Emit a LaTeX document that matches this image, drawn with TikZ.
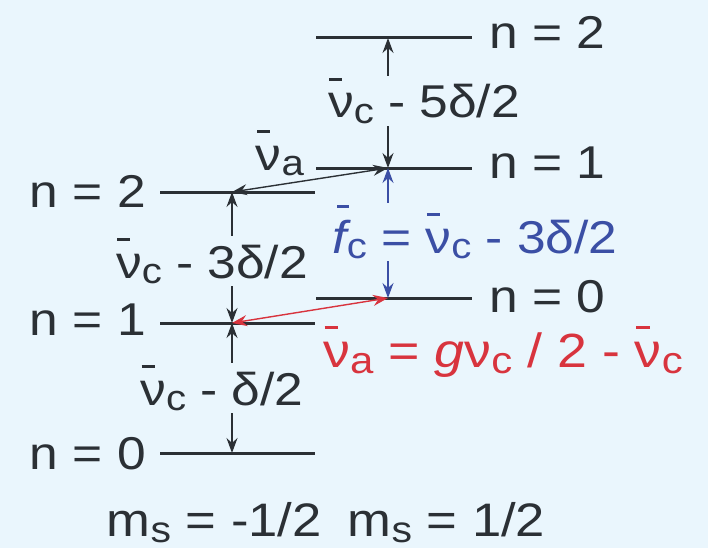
\documentclass[tikz,border=0pt]{standalone}
\usepackage{fontspec}
\setmainfont{Liberation Sans}[FakeStretch=1.12]
\usetikzlibrary{arrows.meta}
\definecolor{bg}{HTML}{EAF6FD}
\definecolor{ink}{HTML}{2B3035}
\definecolor{bl}{HTML}{3B4FA5}
\definecolor{rd}{HTML}{D8343E}
\newcommand\ovb[1]{\setbox0=\hbox{#1}\rlap{\hspace{0.03em}\raisebox{0.8em}{\rule{0.28em}{0.06em}}}\box0}
\newcommand\ovf[1]{\setbox0=\hbox{#1}\rlap{\hspace{0.1em}\raisebox{0.98em}{\rule{0.27em}{0.06em}}}\box0}
\newcommand\sbx[1]{\raisebox{-0.13em}{\scalebox{0.78}{#1}}}
\tikzset{
  level/.style={draw=ink, line width=3pt},
  dim/.style={draw=ink, line width=1.4pt,
    {Stealth[length=15pt,width=11pt,inset=5pt]}-{Stealth[length=15pt,width=11pt,inset=5pt]}},
  txt/.style={text=ink, font=\fontsize{46}{50}\selectfont, inner sep=2pt},
  lab/.style={txt, fill=bg, anchor=base},
}
\begin{document}
\begin{tikzpicture}[x=1pt,y=-1pt]
\fill[bg] (0,0) rectangle (708,548);
\useasboundingbox (0,0) rectangle (708,548);
% level anchor points
\coordinate (R2) at (388,38);
\coordinate (R1) at (388,168);
\coordinate (R0) at (388,298);
\coordinate (L2) at (232,192);
\coordinate (L1) at (232,323);
\coordinate (L0) at (232,453);
% levels
\foreach \p in {R2,R1,R0}{\draw[level] ([xshift=-72pt]\p) -- ([xshift=84pt]\p);}
\foreach \p in {L2,L1,L0}{\draw[level] ([xshift=-72pt]\p) -- ([xshift=83pt]\p);}
% level labels
\node[txt, anchor=base west] (tR2) at (487,49) {n = 2};
\node[txt, anchor=base west] (tR1) at (487,178) {n = 1};
\node[txt, anchor=base west] (tR0) at (487,312) {n = 0};
\node[txt, anchor=base east] (tL2) at (148,207) {n = 2};
\node[txt, anchor=base east] (tL1) at (148,335) {n = 1};
\node[txt, anchor=base east] (tL0) at (148,469) {n = 0};
% connectors
\draw[dim] (R2) -- (R1);
\draw[dim] (L2) -- (L1);
\draw[dim] (L1) -- (L0);
\draw[dim, draw=bl, fill=bl] (R1) -- (R0);
\draw[dim, fill=ink] (L2) -- (R1);
\draw[dim, draw=rd, fill=rd] (L1) -- (R0);
% connector labels
\node[lab] (l5) at (424,118) {\ovb{ν}\sbx{c} - 5δ/2};
\node[lab] (l3) at (212,278) {\ovb{ν}\sbx{c} - 3δ/2};
\node[lab] (l1) at (222,405) {\ovb{ν}\sbx{c} - δ/2};
\node[lab, text=bl] (lf) at (475,253) {\ovf{\itshape f}\sbx{c} = \ovb{ν}\sbx{c} - 3δ/2};
\node[lab] (la) at (280,170) {\ovb{ν}\sbx{a}};
\node[lab, text=rd, font=\fontsize{48}{52}\selectfont] (lr) at (503,367) {\ovb{ν}\sbx{a} = {\itshape g}ν\sbx{c} / 2 - \ovb{ν}\sbx{c}};
\node[txt, anchor=base, font=\fontsize{47}{52}\selectfont] (lm) at (326,536) {m\sbx{s} = -1/2\hspace{0.55em}m\sbx{s} = 1/2};
\end{tikzpicture}
\end{document}
